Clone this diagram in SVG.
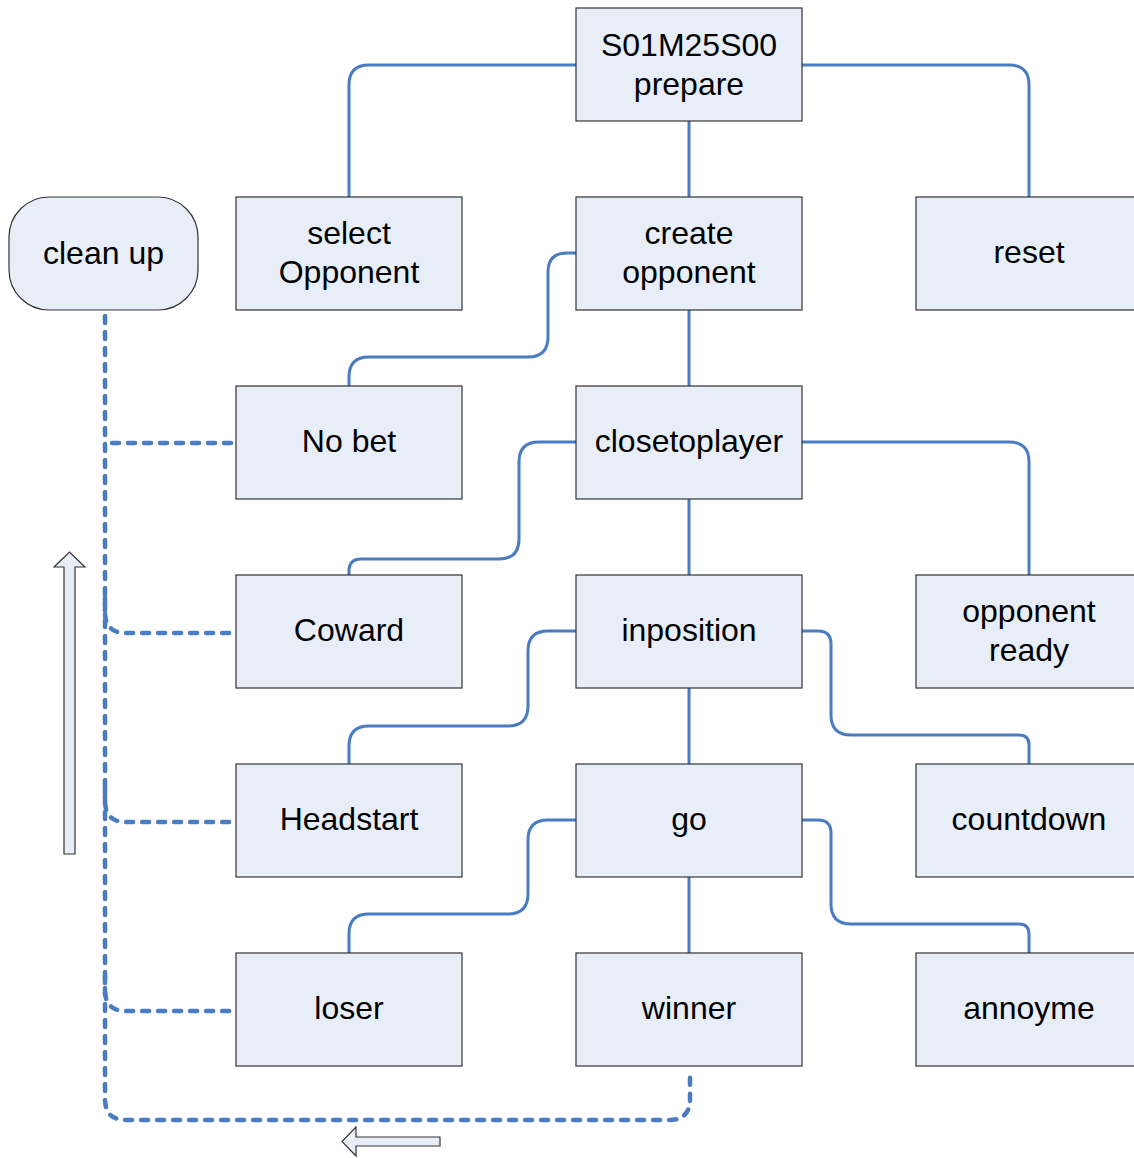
<svg xmlns="http://www.w3.org/2000/svg" width="1134" height="1158" viewBox="0 0 1134 1158">
<style>
.box{fill:#e8eef8;stroke:#333;stroke-width:1.2}
.t{font-family:"Liberation Sans",Arial,sans-serif;font-size:32px;fill:#000;text-anchor:middle}
.c{fill:none;stroke:#4a7cc2;stroke-width:3}
.d{fill:none;stroke:#4a7cc2;stroke-width:4.5;stroke-dasharray:7 9;stroke-linecap:round}
.ar{fill:#e8eef8;stroke:#333;stroke-width:1.2}
</style>
<rect width="1134" height="1158" fill="#fff"/>
<g id="connectors">
<path class="c" d="M576,65 H369 Q349,65 349,85 V197"/>
<path class="c" d="M802,65 H1009 Q1029,65 1029,85 V197"/>
<path class="c" d="M689,121 V197"/>
<path class="c" d="M576,253 H567 Q548,253 548,272 V337 Q548,357 528,357 H369 Q349,357 349,377 V386"/>
<path class="c" d="M689,310 V386"/>
<path class="c" d="M576,442 H539 Q519,442 519,462 V539 Q519,559 499,559 H361 Q349,559 349,571 V575"/>
<path class="c" d="M802,442 H1009 Q1029,442 1029,462 V575"/>
<path class="c" d="M689,499 V575"/>
<path class="c" d="M576,631 H548 Q528,631 528,651 V706 Q528,726 508,726 H369 Q349,726 349,746 V764"/>
<path class="c" d="M802,631 H818 Q831,631 831,644 V715 Q831,735 851,735 H1019 Q1029,735 1029,745 V764"/>
<path class="c" d="M689,688 V764"/>
<path class="c" d="M576,820 H548 Q528,820 528,840 V894 Q528,914 508,914 H369 Q349,914 349,934 V953"/>
<path class="c" d="M802,820 H818 Q831,820 831,833 V904 Q831,924 851,924 H1019 Q1029,924 1029,934 V953"/>
<path class="c" d="M689,877 V953"/>
<path class="d" d="M105,316 V1099 Q105,1120 126,1120 H669 Q690,1120 690,1099 V1069"/>
<path class="d" d="M112,443 H236"/>
<path class="d" d="M105,598 V612 Q105,633 126,633 H236"/>
<path class="d" d="M105,787 V801 Q105,822 126,822 H236"/>
<path class="d" d="M105,976 V990 Q105,1011 126,1011 H236"/>
</g>
<g id="n-prepare"><rect class="box" x="576" y="8" width="226" height="113"/><text class="t" x="689" y="56">S01M25S00</text><text class="t" x="689" y="95">prepare</text></g>
<g id="n-cleanup"><rect class="box" x="9" y="197" width="189" height="113" rx="40" ry="40"/><text class="t" x="103.5" y="264">clean up</text></g>
<g id="n-select"><rect class="box" x="236" y="197" width="226" height="113"/><text class="t" x="349" y="244">select</text><text class="t" x="349" y="283">Opponent</text></g>
<g id="n-create"><rect class="box" x="576" y="197" width="226" height="113"/><text class="t" x="689" y="244">create</text><text class="t" x="689" y="283">opponent</text></g>
<g id="n-reset"><rect class="box" x="916" y="197" width="226" height="113"/><text class="t" x="1029" y="263">reset</text></g>
<g id="n-nobet"><rect class="box" x="236" y="386" width="226" height="113"/><text class="t" x="349" y="452">No bet</text></g>
<g id="n-closetoplayer"><rect class="box" x="576" y="386" width="226" height="113"/><text class="t" x="689" y="452">closetoplayer</text></g>
<g id="n-coward"><rect class="box" x="236" y="575" width="226" height="113"/><text class="t" x="349" y="641">Coward</text></g>
<g id="n-inposition"><rect class="box" x="576" y="575" width="226" height="113"/><text class="t" x="689" y="641">inposition</text></g>
<g id="n-ready"><rect class="box" x="916" y="575" width="226" height="113"/><text class="t" x="1029" y="622">opponent</text><text class="t" x="1029" y="661">ready</text></g>
<g id="n-headstart"><rect class="box" x="236" y="764" width="226" height="113"/><text class="t" x="349" y="830">Headstart</text></g>
<g id="n-go"><rect class="box" x="576" y="764" width="226" height="113"/><text class="t" x="689" y="830">go</text></g>
<g id="n-countdown"><rect class="box" x="916" y="764" width="226" height="113"/><text class="t" x="1029" y="830">countdown</text></g>
<g id="n-loser"><rect class="box" x="236" y="953" width="226" height="113"/><text class="t" x="349" y="1019">loser</text></g>
<g id="n-winner"><rect class="box" x="576" y="953" width="226" height="113"/><text class="t" x="689" y="1019">winner</text></g>
<g id="n-annoyme"><rect class="box" x="916" y="953" width="226" height="113"/><text class="t" x="1029" y="1019">annoyme</text></g>
<g id="arrow-up"><path class="ar" d="M64,854 V567 H54 L69.5,552 L85,567 H75 V854 Z"/></g>
<g id="arrow-left"><path class="ar" d="M440,1137 H356 V1127 L342,1141.5 L356,1156 V1146 H440 Z"/></g>
</svg>
